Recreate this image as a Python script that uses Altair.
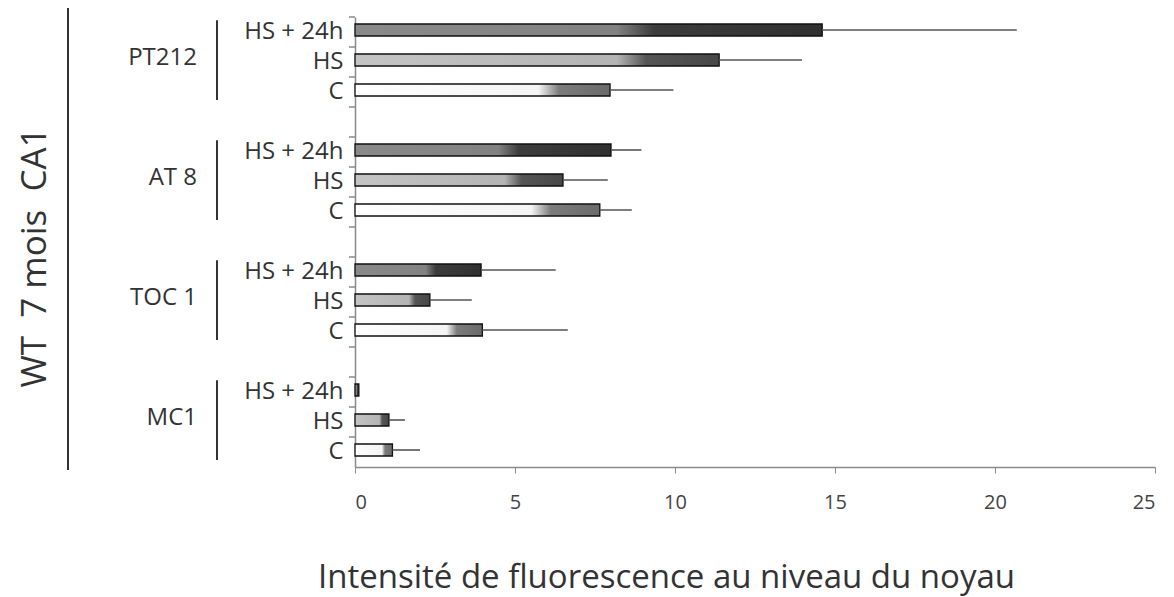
import altair as alt
import pandas as pd

# ---- data ----
groups = ["PT212", "AT 8", "TOC 1", "MC1"]
conditions = ["HS + 24h", "HS", "C"]
pt212_mean = [14.6, 11.38, 7.97]
pt212_upper = [20.68, 13.97, 9.95]
at8_mean = [8.0, 6.5, 7.65]
at8_upper = [8.95, 7.9, 8.65]
toc1_mean = [3.94, 2.34, 3.98]
toc1_upper = [6.27, 3.65, 6.65]
mc1_mean = [0.12, 1.06, 1.17]
mc1_upper = [0.12, 1.56, 2.03]
x_ticks = [0, 5, 10, 15, 20, 25]
x_title = "Intensité de fluorescence au niveau du noyau"
y_title = "WT\u00a0\u00a07 mois\u00a0\u00a0CA1"

means = [pt212_mean, at8_mean, toc1_mean, mc1_mean]
uppers = [pt212_upper, at8_upper, toc1_upper, mc1_upper]

# ---- build tables ----
rows, order, brackets = [], [], []
for gi, g in enumerate(groups):
    if gi > 0:
        order.append(f"gap{gi}")
    slots = []
    for ci, c in enumerate(conditions):
        slot = f"{g}|{c}"
        order.append(slot)
        slots.append(slot)
        rows.append({"slot": slot, "group": g, "cond": c,
                     "mean": means[gi][ci], "upper": uppers[gi][ci]})
    brackets.append({"group": g, "first": slots[0], "mid": slots[1], "last": slots[2]})

df = pd.DataFrame(rows)
df_br = pd.DataFrame(brackets)
df_slots = pd.DataFrame({"slot": order})

W, H = 800, 450
FONT = "Open Sans"
yscale = alt.Scale(domain=order, paddingInner=0, paddingOuter=0)
xscale = alt.Scale(domain=[0, 25], nice=False)


def grad(stops):
    return alt.LinearGradient(
        gradient="linear",
        stops=[alt.GradientStop(color=c, offset=o) for o, c in stops],
        x1=0, x2=1, y1=0, y2=0,
    )


fills = {
    "C": grad([(0, "#ffffff"), (0.72, "#f4f4f4"), (0.8, "#7c7c7c"), (1, "#6a6a6a")]),
    "HS": grad([(0, "#c4c4c4"), (0.72, "#b4b4b4"), (0.8, "#555555"), (1, "#474747")]),
    "HS + 24h": grad([(0, "#8a8a8a"), (0.56, "#828282"), (0.64, "#3c3c3c"), (1, "#303030")]),
}

base = alt.Chart(df)

y_axis = alt.Axis(
    title=y_title, titleFontSize=35, titleFont=FONT, titleFontWeight="normal",
    titleColor="#333333", titleAngle=270, titleAlign="center",
    titleBaseline="alphabetic", titleX=-310, titleY=240,
    labelExpr="indexof(datum.value, '|') >= 0 ? split(datum.value, '|')[1] : ''",
    labelFontSize=24, labelFont=FONT, labelColor="#333333", labelPadding=12,
    ticks=False, domainColor="#8a8a8a", domainWidth=1.5,
)
x_axis = alt.Axis(
    values=x_ticks, grid=False, title=x_title, titleFontSize=33, titleFont=FONT,
    titleFontWeight="normal", titleColor="#333333", titleX=311, titleY=120,
    titleAlign="center", titleBaseline="alphabetic", titleAnchor="start",
    labelFontSize=20, labelFont=FONT, labelColor="#444444", labelPadding=19,
    tickColor="#8a8a8a", tickSize=6, domainColor="#8a8a8a", domainWidth=1.5,
)

layers = []
# bars, one layer per condition for its gradient
for i, c in enumerate(conditions):
    if i == 0:
        enc = dict(y=alt.Y("slot:N", scale=yscale, axis=y_axis),
                   x=alt.X("mean:Q", scale=xscale, axis=x_axis))
    else:
        enc = dict(y=alt.Y("slot:N", scale=yscale), x=alt.X("mean:Q", scale=xscale))
    layers.append(
        base.transform_filter(alt.datum.cond == c)
        .mark_bar(size=12, yOffset=-2, fill=fills[c], stroke="#111111", strokeWidth=1.3)
        .encode(**enc)
    )
# y-axis ticks at band boundaries
layers.append(
    alt.Chart(df_slots).mark_rule(color="#8a8a8a", strokeWidth=1.5).encode(
        y=alt.Y("slot:N", scale=yscale, bandPosition=0),
        x=alt.value(-6), x2=alt.value(0),
    )
)
# error bars
layers.append(
    base.mark_rule(color="#555555", strokeWidth=1.6, yOffset=-2).encode(
        y=alt.Y("slot:N", scale=yscale),
        x=alt.X("mean:Q", scale=xscale),
        x2="upper:Q",
    )
)
# group brackets
layers.append(
    alt.Chart(df_br).mark_rule(color="#333333", strokeWidth=2).encode(
        y=alt.Y("first:N", scale=yscale, bandPosition=0.11),
        y2=alt.Y2("last:N", bandPosition=0.77),
        x=alt.value(-138),
    )
)
# group labels
layers.append(
    alt.Chart(df_br).mark_text(align="right", baseline="middle", dy=-4,
                               fontSize=24, font=FONT, color="#333333").encode(
        y=alt.Y("mid:N", scale=yscale),
        x=alt.value(-158),
        text="group:N",
    )
)
# long vertical line left of group labels
layers.append(
    alt.Chart(df_br.head(1)).mark_rule(color="#333333", strokeWidth=2).encode(
        x=alt.value(-287), y=alt.value(-9), y2=alt.value(H + 3),
    )
)

chart = alt.layer(*layers).properties(
    width=W, height=H,
    autosize=alt.AutoSizeParams(type="none"),
    padding={"left": 347, "top": 9, "right": 10, "bottom": 130},
).configure(font=FONT).configure_view(stroke=None)

chart.save("out.html", embed_options={"renderer": "svg", "actions": False})
